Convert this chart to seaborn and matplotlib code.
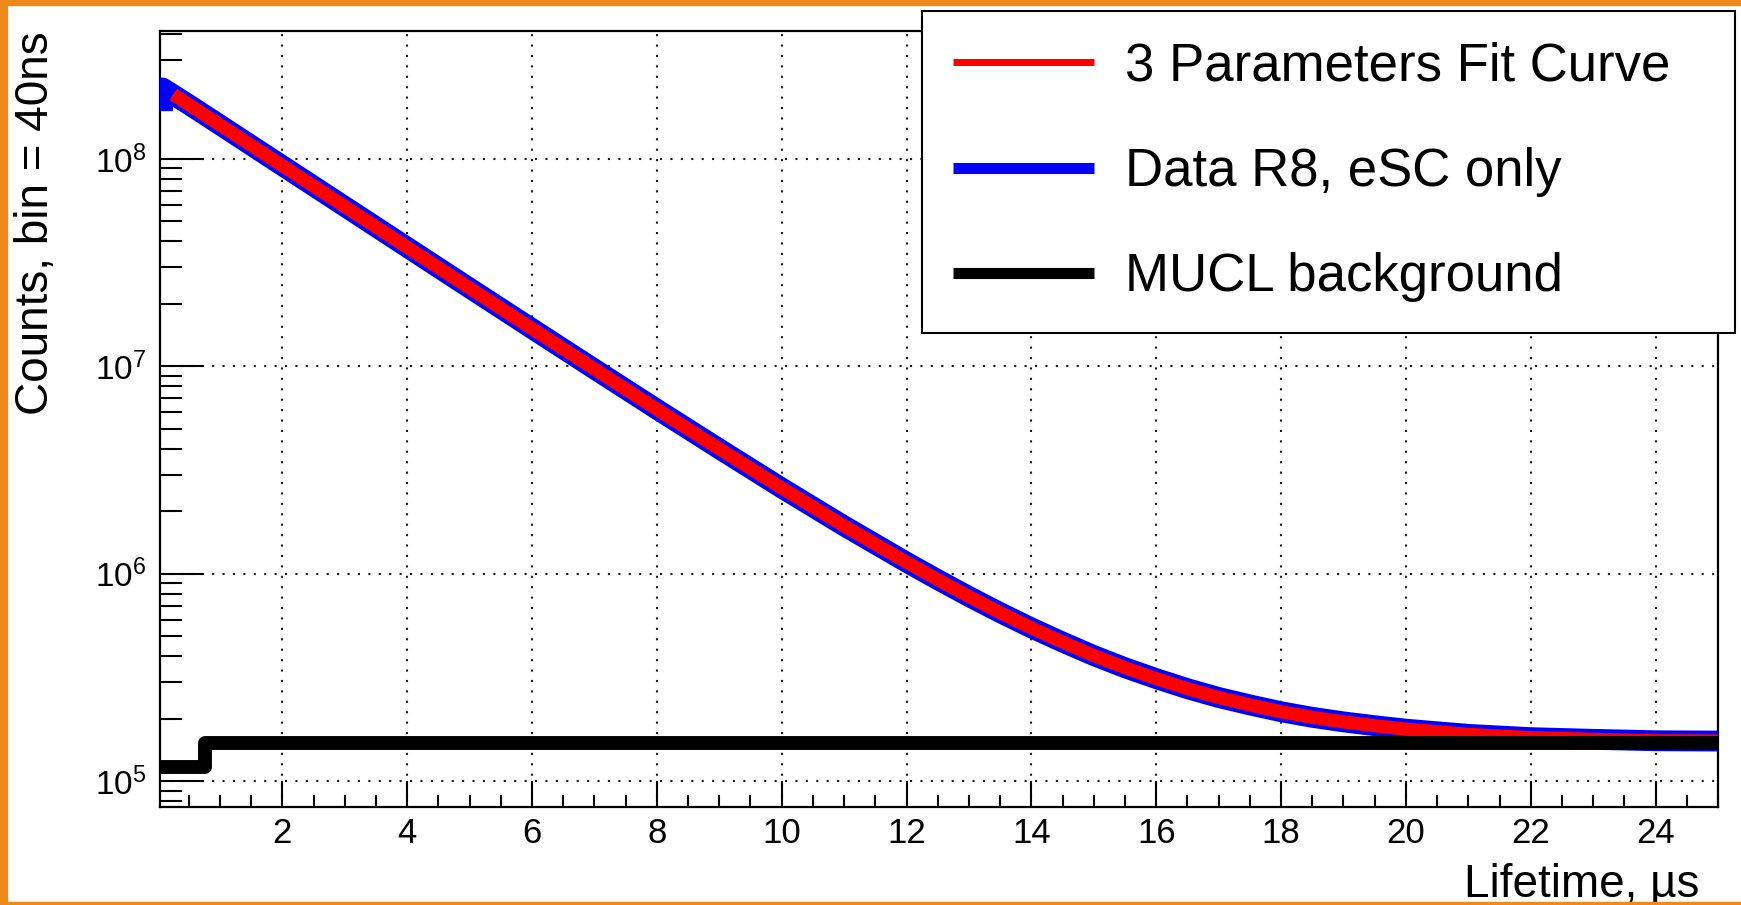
import numpy as np
import pandas as pd
import matplotlib
matplotlib.use("Agg")
import matplotlib.pyplot as plt
import seaborn as sns
from matplotlib.lines import Line2D
from matplotlib.patches import Rectangle
from matplotlib.ticker import MultipleLocator, LogLocator, NullFormatter, FuncFormatter

# ---------------- data ----------------
fit_t = [0.25, 0.5, 1, 2, 3, 4, 5, 6, 7, 8, 9, 10, 11, 12, 12.5, 13, 13.5,
         14, 14.5, 15, 15.5, 16, 16.5, 17, 17.5, 18, 18.5, 19, 19.5, 20, 21,
         22, 23, 24, 25]
fit_counts = [2.05e8, 1.83e8, 1.46e8, 9.28e7, 5.90e7, 3.75e7, 2.385e7, 1.52e7,
              9.70e6, 6.21e6, 4.00e6, 2.59e6, 1.70e6, 1.136e6, 9.36e5, 7.76e5,
              6.49e5, 5.48e5, 4.68e5, 4.03e5, 3.52e5, 3.12e5, 2.79e5, 2.53e5,
              2.33e5, 2.16e5, 2.03e5, 1.93e5, 1.85e5, 1.78e5, 1.68e5, 1.62e5,
              1.59e5, 1.565e5, 1.56e5]

data_t = [0.08, 0.08] + fit_t[1:]
data_counts = [1.70e8, 2.20e8] + fit_counts[1:]

bg_t = [0.04, 0.76, 25.0]
bg_counts = [1.17e5, 1.53e5, 1.53e5]

legend_labels = ["3 Parameters Fit Curve", "Data R8, eSC only", "MUCL background"]
x_label = "Lifetime, \u00b5s"
y_label = "Counts, bin = 40ns"

# ---------------- style ----------------
sns.set_theme(style="white")
plt.rcParams["font.family"] = ["Liberation Sans", "DejaVu Sans"]
plt.rcParams["mathtext.default"] = "regular"
plt.rcParams["text.color"] = "black"
plt.rcParams["axes.labelcolor"] = "black"
plt.rcParams["xtick.color"] = "black"
plt.rcParams["ytick.color"] = "black"

W, H = 1741, 905
fig = plt.figure(figsize=(W / 100, H / 100), dpi=100, facecolor="white")
ax = fig.add_axes([160 / W, 1 - 807 / H, (1718 - 160) / W, (807 - 31) / H])
ax.set_facecolor("white")

fit_df = pd.DataFrame({"t": fit_t, "counts": fit_counts})
data_df = pd.DataFrame({"t": data_t, "counts": data_counts})
bg_df = pd.DataFrame({"t": bg_t, "counts": bg_counts})

sns.lineplot(data=data_df, x="t", y="counts", ax=ax, color="#0000FF",
             linewidth=15, estimator=None, sort=False,
             solid_capstyle="butt", zorder=3)
sns.lineplot(data=fit_df, x="t", y="counts", ax=ax, color="#FF0000",
             linewidth=9.5, estimator=None, sort=False,
             solid_capstyle="butt", zorder=4)
sns.lineplot(data=bg_df, x="t", y="counts", ax=ax, color="black",
             linewidth=10, estimator=None, sort=False, drawstyle="steps-post",
             solid_capstyle="butt", zorder=5)

ax.set_yscale("log")
ax.set_xlim(0.04, 25.0)
ax.set_ylim(7.5e4, 4.14e8)
ax.set_xlabel("")
ax.set_ylabel("")

ax.xaxis.set_major_locator(MultipleLocator(2))
ax.xaxis.set_minor_locator(MultipleLocator(0.5))
ax.xaxis.set_major_formatter(FuncFormatter(lambda v, _: "%d" % round(v)))
ax.yaxis.set_major_locator(LogLocator(base=10))
ax.yaxis.set_minor_locator(LogLocator(base=10, subs=np.arange(2, 10)))
ax.yaxis.set_minor_formatter(NullFormatter())
ax.yaxis.set_major_formatter(
    FuncFormatter(lambda v, _: r"$10^{%d}$" % round(np.log10(v))))

ax.tick_params(axis="x", which="major", direction="in", length=19, width=1.5,
               labelsize=25, pad=7, color="black", labelcolor="black",
               top=False, bottom=True)
ax.tick_params(axis="x", which="minor", direction="in", length=8.6, width=1.5,
               color="black", top=False, bottom=True)
ax.tick_params(axis="y", which="major", direction="in", length=31.7, width=1.5,
               labelsize=24, pad=10, color="black", labelcolor="black",
               right=False, left=True)
ax.tick_params(axis="y", which="minor", direction="in", length=15.8, width=1.5,
               color="black", right=False, left=True)

for s in ax.spines.values():
    s.set_visible(True)
    s.set_color("black")
    s.set_linewidth(1.6)

ax.set_axisbelow(True)
ax.grid(True, which="major", axis="both", color="#1a1a1a", linewidth=1.5,
        linestyle=(0, (1, 4.0)))

# axis titles (ROOT-style, aligned to axis ends)
fig.text(1699 / W, 8 / H, x_label, ha="right", va="baseline", fontsize=33,
         color="black")
fig.text(36 / W, 1 - 31 / H, y_label, ha="center", va="top", rotation=90,
         fontsize=33, color="black")

# legend
handles = [Line2D([], [], color="#FF0000", linewidth=5, solid_capstyle="butt"),
           Line2D([], [], color="#0000FF", linewidth=8, solid_capstyle="butt"),
           Line2D([], [], color="black", linewidth=8, solid_capstyle="butt")]
leg = fig.legend(handles, legend_labels, loc="upper left",
                 bbox_to_anchor=(922 / W, 1 - 11 / H, (1735 - 922) / W, 0),
                 mode="expand", borderaxespad=0, fontsize=38,
                 handlelength=2.67, handletextpad=0.59, borderpad=0.58,
                 labelspacing=1.05, fancybox=False, shadow=False,
                 frameon=True, framealpha=1, edgecolor="black",
                 facecolor="white")
leg.get_frame().set_linewidth(1.5)
leg.set_zorder(10)
for txt in leg.get_texts():
    txt.set_color("black")

# orange frame strips
orange = "#EE8A1A"
fig.patches.append(Rectangle((0, 0), 7 / W, 1, transform=fig.transFigure,
                             color=orange, zorder=20))
fig.patches.append(Rectangle((0, 1 - 5 / H), 1, 5 / H, transform=fig.transFigure,
                             color=orange, zorder=20))
fig.patches.append(Rectangle((0, 0), 1, 3 / H, transform=fig.transFigure,
                             color=orange, zorder=20))

fig.savefig("out.png", dpi=100, facecolor="white")
